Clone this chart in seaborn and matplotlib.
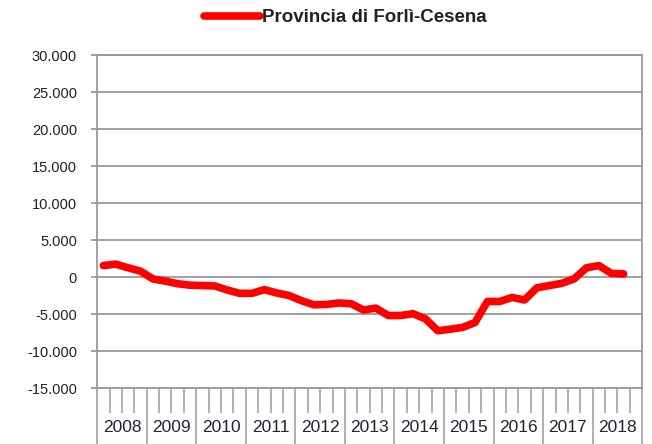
import matplotlib
matplotlib.use("Agg")
import matplotlib.pyplot as plt
import matplotlib.ticker as mticker
import seaborn as sns
import numpy as np
import pandas as pd

# dati trimestrali (saldo), 2008 T1 - 2018 T3
anni = [2008, 2009, 2010, 2011, 2012, 2013, 2014, 2015, 2016, 2017, 2018]
trimestri = ['T1', 'T2', 'T3', 'T4']
valori = [1550, 1750, 1250, 800,
          -250, -550, -900, -1100,
          -1150, -1200, -1750, -2200,
          -2200, -1700, -2150, -2500,
          -3200, -3750, -3700, -3500,
          -3600, -4450, -4200, -5200,
          -5200, -4950, -5650, -7250,
          -7050, -6800, -6150, -3300,
          -3300, -2750, -3100, -1450,
          -1150, -850, -250, 1250,
          1550, 500, 430]
serie = 'Provincia di Forlì-Cesena'

etichette = [f"{a} {t}" for a in anni for t in trimestri]
df = pd.DataFrame({'periodo': etichette[:len(valori)], 'valore': valori})
df['pos'] = np.arange(len(df))

sns.set_style("white")
plt.rcParams['font.family'] = ['Liberation Sans', 'DejaVu Sans']
plt.rcParams['axes.unicode_minus'] = False

fig = plt.figure(figsize=(6.52, 4.44), dpi=100)
ax = fig.add_axes([0.149, 0.126, 0.836, 0.750])

sns.lineplot(data=df, x='pos', y='valore', color='#ff0000', linewidth=5.5,
             label=serie, ax=ax, solid_capstyle='round')

n_cat = len(anni) * 4
ax.set_xlim(-0.5, n_cat - 0.5)
ax.set_ylim(-15000, 30000)
ax.yaxis.set_major_locator(mticker.MultipleLocator(5000))
ax.yaxis.set_major_formatter(mticker.FuncFormatter(lambda v, p: f"{int(v):,}".replace(",", ".")))
ax.grid(axis='y', color='#999999', linewidth=1.3)
ax.grid(axis='x', visible=False)

for s in ax.spines.values():
    s.set_color('#999999')
    s.set_linewidth(1.3)

# asse categorie: tacche lunghe tra gli anni, corte tra i trimestri
ax.xaxis.set_major_locator(mticker.FixedLocator(np.arange(-0.5, n_cat, 4)))
ax.xaxis.set_minor_locator(mticker.FixedLocator([x for x in np.arange(-0.5, n_cat, 1) if (x + 0.5) % 4]))
ax.xaxis.set_major_formatter(mticker.NullFormatter())
ax.tick_params(axis='x', which='both', bottom=True, top=False)
ax.tick_params(axis='x', which='major', length=45, width=1.3, color='#aaaaaa', direction='out')
ax.tick_params(axis='x', which='minor', length=18, width=1.3, color='#aaaaaa', direction='out')
ax.tick_params(axis='y', left=True, length=4.5, width=1.3, color='#999999', labelsize=10.5, pad=10,
               labelcolor='#222222')
ax.set_xlabel('')
ax.set_ylabel('')

trans = ax.get_xaxis_transform()
for k, a in enumerate(anni):
    ax.text(k * 4 + 1.5, -0.117, str(a), transform=trans, ha='center', va='center',
            fontsize=12.5, color='#222233')

ax.get_legend().remove()
h, l = ax.get_legend_handles_labels()
fig.legend(h, l, loc='center', bbox_to_anchor=(0.53, 0.96), frameon=False,
           handlelength=3.0, handletextpad=0.1,
           prop={'size': 13.5, 'weight': 'bold'}, labelcolor='#222222')

fig.savefig('out.png', dpi=100)
